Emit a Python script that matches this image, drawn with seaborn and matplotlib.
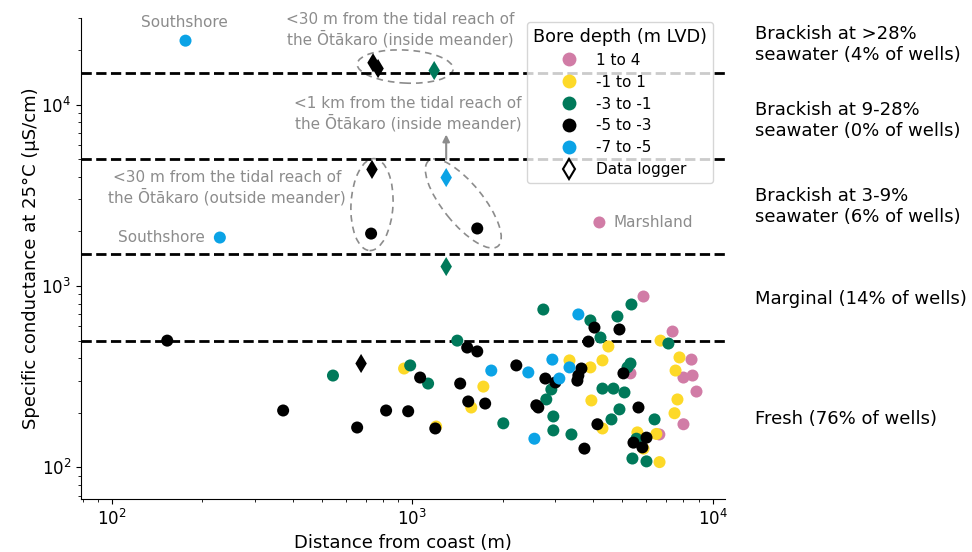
import pandas as pd
import seaborn as sns
import matplotlib.pyplot as plt
from matplotlib.patches import Ellipse
from matplotlib.lines import Line2D
from matplotlib import transforms

depth_order = ["1 to 4", "-1 to 1", "-3 to -1", "-5 to -3", "-7 to -5"]
depth_colors = ["#D17CA6", "#FDD928", "#00795A", "#000000", "#0BA3E6"]

# distance from coast (m) / specific conductance (uS/cm), one pair of lists per depth class
pink_dist = [4200, 5890, 7360, 8510, 8000, 8580, 8840, 8000, 5330, 6650]
pink_ec = [2240, 875, 561, 393, 313, 321, 262, 173, 330, 152]

yellow_dist = [940, 1202, 1726, 1573, 4500, 6710, 7760, 7530, 7640, 7470,
               3340, 3920, 4300, 3950, 4300, 5620, 6500, 5890, 6660]
yellow_ec = [351, 168, 279, 214, 464, 500, 404, 342, 237, 199,
             389, 356, 389, 234, 164, 156, 153, 127, 107]

green_dist = [545, 985, 1130, 1413, 2011, 2733, 2906, 2796, 2951, 2951,
              3390, 5370, 4823, 3920, 4234, 7130, 5330, 5210, 4300, 4677,
              5090, 4898, 4607, 6410, 5410, 6026, 5580]
green_ec = [321, 365, 290, 500, 175, 742, 269, 237, 191, 160,
            152, 791, 679, 646, 520, 482, 374, 356, 272, 272,
            259, 209, 184, 184, 112, 108, 144]

black_dist = [153, 372, 656, 819, 970, 730, 1647, 1063, 1194, 1525,
              1647, 1445, 1537, 1750, 2222, 2590, 2630, 2776, 2997, 4898,
              4044, 3862, 3660, 3575, 3548, 5050, 5667, 4137, 3745, 5454,
              5840, 6026]
black_ec = [500, 206, 166, 206, 204, 1945, 2075, 313, 164, 458,
            436, 290, 231, 225, 365, 220, 214, 309, 294, 576,
            590, 494, 351, 321, 301, 330, 214, 173, 127, 137,
            129, 146]

blue_dist = [176, 229, 1834, 2436, 2552, 2929, 3090, 3340, 3575]
blue_ec = [22500, 1850, 342, 334, 144, 393, 309, 356, 697]

# data logger bores
logger_dist = [741, 770, 735, 676, 1184, 1298, 1298]
logger_ec = [17000, 15800, 4390, 374, 15400, 1280, 3960]
logger_depth = ["-5 to -3", "-5 to -3", "-5 to -3", "-5 to -3", "-3 to -1", "-3 to -1", "-7 to -5"]

class_lines = [500, 1500, 5000, 15000]
class_labels = ["Brackish at >28%\nseawater (4% of wells)",
                "Brackish at 9-28%\nseawater (0% of wells)",
                "Brackish at 3-9%\nseawater (6% of wells)",
                "Marginal (14% of wells)",
                "Fresh (76% of wells)"]
class_label_y = [21400, 8170, 2740, 843, 186]

frames = []
for name, d, e in zip(depth_order,
                      [pink_dist, yellow_dist, green_dist, black_dist, blue_dist],
                      [pink_ec, yellow_ec, green_ec, black_ec, blue_ec]):
    frames.append(pd.DataFrame({"distance": d, "ec": e, "depth": name}))
bores = pd.concat(frames, ignore_index=True)
loggers = pd.DataFrame({"distance": logger_dist, "ec": logger_ec, "depth": logger_depth})

fig = plt.figure(figsize=(9.72, 5.52), dpi=100)
ax = fig.add_axes([81 / 972, 53 / 552, 644 / 972, 481 / 552])

for v in class_lines:
    ax.axhline(v, color="black", ls="--", lw=2, zorder=2)

sns.scatterplot(data=bores, x="distance", y="ec", hue="depth", hue_order=depth_order,
                palette=depth_colors, s=75, linewidth=0, legend=False, ax=ax, zorder=3)
sns.scatterplot(data=loggers, x="distance", y="ec", hue="depth", hue_order=depth_order,
                palette=depth_colors, marker="d", s=95, linewidth=0, legend=False,
                ax=ax, zorder=3)

ax.set_xscale("log")
ax.set_yscale("log")
ax.set_xlim(79, 11000)
ax.set_ylim(67, 30000)
sns.despine(ax=ax)
ax.tick_params(labelsize=12)
ax.set_xlabel("Distance from coast (m)", fontsize=13)
ax.set_ylabel("Specific conductance at 25°C (µS/cm)", fontsize=13, labelpad=1)

# class names on the right
trans = transforms.blended_transform_factory(ax.transAxes, ax.transData)
for lab, yv in zip(class_labels, class_label_y):
    ax.text(1.0466, yv, lab, transform=trans, fontsize=13, va="center", ha="left",
            linespacing=1.25)

grey = "#8c8c8c"
ax.text(175, 28300, "Southshore", color=grey, fontsize=11, ha="center", va="center")
ax.text(204, 1850, "Southshore", color=grey, fontsize=11, ha="right", va="center")
ax.text(4680, 2240, "Marshland", color=grey, fontsize=11, ha="left", va="center")
ax.text(912, 25900, "<30 m from the tidal reach of\nthe Ōtākaro (inside meander)",
        color=grey, fontsize=11, ha="center", va="center", linespacing=1.2)
ax.text(970, 8920, "<1 km from the tidal reach of\nthe Ōtākaro (inside meander)",
        color=grey, fontsize=11, ha="center", va="center", linespacing=1.2)
ax.text(242, 3490, "<30 m from the tidal reach of\nthe Ōtākaro (outside meander)",
        color=grey, fontsize=11, ha="center", va="center", linespacing=1.2)
ax.annotate("", xy=(1298, 6840), xytext=(1298, 5000),
            arrowprops=dict(arrowstyle="-|>", color=grey, lw=1.5, mutation_scale=10,
                            shrinkA=0, shrinkB=0))


def ring(x, y, w, h, ang):
    # ellipse sized in inches, centred on a data point
    tr = fig.dpi_scale_trans + transforms.ScaledTranslation(x, y, ax.transData)
    ax.add_patch(Ellipse((0, 0), w, h, angle=ang, fill=False, ec=grey, lw=1.2,
                         ls=(0, (4, 3)), transform=tr, clip_on=False))


ring(948, 16200, 0.96, 0.33, -3)
ring(735, 2810, 0.42, 0.92, -3)
ring(1480, 2850, 1.10, 0.40, -51)

handles = [Line2D([], [], marker="o", ls="", color=c, markersize=10, markeredgewidth=0)
           for c in depth_colors]
handles.append(Line2D([], [], marker="d", ls="", markerfacecolor="white",
                      markeredgecolor="black", markersize=10, markeredgewidth=1.5))
ax.legend(handles, depth_order + ["Data logger"], title="Bore depth (m LVD)",
          fontsize=11, title_fontsize=12.7, loc="upper left",
          bbox_to_anchor=(0.6925, 0.992), borderaxespad=0, labelspacing=0.45)

fig.savefig("out.png", dpi=100)
